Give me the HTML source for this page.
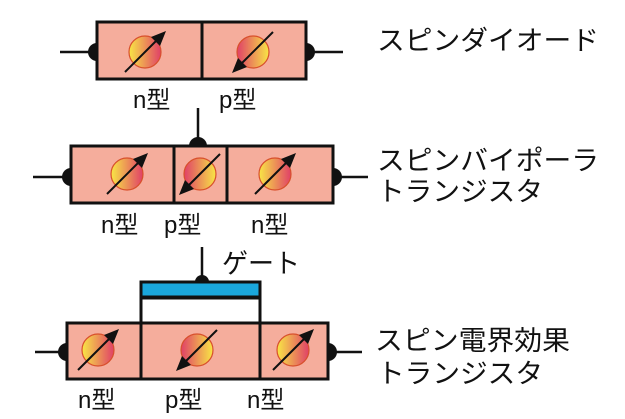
<!DOCTYPE html>
<html><head><meta charset="utf-8"><style>html,body{margin:0;padding:0;background:#fff}svg{display:block}</style></head>
<body>
<svg width="625" height="419" viewBox="0 0 625 419" xmlns="http://www.w3.org/2000/svg" font-family="'Liberation Sans','Noto Sans CJK JP',sans-serif">
<defs>
<linearGradient id="gn" x1="0" y1="0" x2="1" y2="0"><stop offset="0" stop-color="#f8e645"/><stop offset="1" stop-color="#e04068"/></linearGradient>
<linearGradient id="gp" x1="0" y1="0" x2="1" y2="0"><stop offset="0" stop-color="#e04068"/><stop offset="1" stop-color="#f8e645"/></linearGradient>
<symbol id="sn" overflow="visible"><circle cx="0" cy="0" r="16" fill="url(#gn)" stroke="#d8502c" stroke-width="1.2"/><line x1="-20" y1="20" x2="13" y2="-13" stroke="#111" stroke-width="2"/><path d="M21,-21 L6,-15 L15,-6 z" fill="#111"/></symbol>
<symbol id="sp" overflow="visible"><circle cx="0" cy="0" r="16" fill="url(#gp)" stroke="#d8502c" stroke-width="1.2"/><line x1="20" y1="-20" x2="-13" y2="13" stroke="#111" stroke-width="2"/><path d="M-21,21 L-6,15 L-15,6 z" fill="#111"/></symbol>
</defs>
<g stroke="#111" stroke-width="2.5">
<line x1="60" y1="52" x2="97" y2="52"/><line x1="306" y1="52" x2="343" y2="52"/>
<line x1="198" y1="108" x2="198" y2="138"/>
<line x1="33" y1="177" x2="71" y2="177"/><line x1="333" y1="177" x2="368" y2="177"/>
<line x1="35" y1="352" x2="67" y2="352"/><line x1="328" y1="352" x2="362" y2="352"/>
<line x1="202" y1="247" x2="202" y2="282"/>
</g>
<g fill="#111">
<circle cx="97" cy="52" r="9"/><circle cx="306" cy="52" r="9"/>
<circle cx="198" cy="146" r="9"/>
<circle cx="71" cy="177" r="9"/><circle cx="333" cy="177" r="9"/>
<circle cx="67" cy="352" r="9"/><circle cx="328" cy="352" r="9"/>
<circle cx="202" cy="282" r="7"/>
</g>
<g stroke="#111" stroke-width="3" fill="#f5ad9c">
<rect x="97" y="22" width="105" height="57"/><rect x="202" y="22" width="104" height="57"/>
<rect x="71" y="146" width="103" height="57"/><rect x="174" y="146" width="53" height="57"/><rect x="227" y="146" width="106" height="57"/>
<rect x="141" y="298" width="119" height="25" fill="#fff"/>
<rect x="141" y="282" width="119" height="15" fill="#1aa7dc"/>
<rect x="67" y="323" width="74" height="56"/><rect x="141" y="323" width="119" height="56"/><rect x="260" y="323" width="68" height="56"/>
</g>
<use href="#sn" x="145" y="52"/><use href="#sp" x="253" y="52"/>
<use href="#sn" x="127" y="174"/><use href="#sp" x="200" y="174"/><use href="#sn" x="275" y="174"/>
<use href="#sn" x="98" y="350"/><use href="#sp" x="197" y="350"/><use href="#sn" x="293" y="350"/>
<g font-size="24" fill="#111">
<text x="133" y="108">n型</text><text x="219" y="108">p型</text>
<text x="101" y="233">n型</text><text x="164" y="233">p型</text><text x="251" y="233">n型</text>
<text x="78" y="408">n型</text><text x="165" y="408">p型</text><text x="247" y="408">n型</text>
</g>
<g font-size="27" fill="#111">
<text x="377" y="50" textLength="222" lengthAdjust="spacingAndGlyphs">スピンダイオード</text>
<text x="377" y="170" textLength="222" lengthAdjust="spacingAndGlyphs">スピンバイポーラ</text>
<text x="377" y="201" textLength="166" lengthAdjust="spacingAndGlyphs">トランジスタ</text>
<text x="222" y="273" textLength="78" lengthAdjust="spacingAndGlyphs">ゲート</text>
<text x="375" y="350" textLength="195" lengthAdjust="spacingAndGlyphs">スピン電界効果</text>
<text x="377" y="383" textLength="166" lengthAdjust="spacingAndGlyphs">トランジスタ</text>
</g>
</svg>
</body></html>
